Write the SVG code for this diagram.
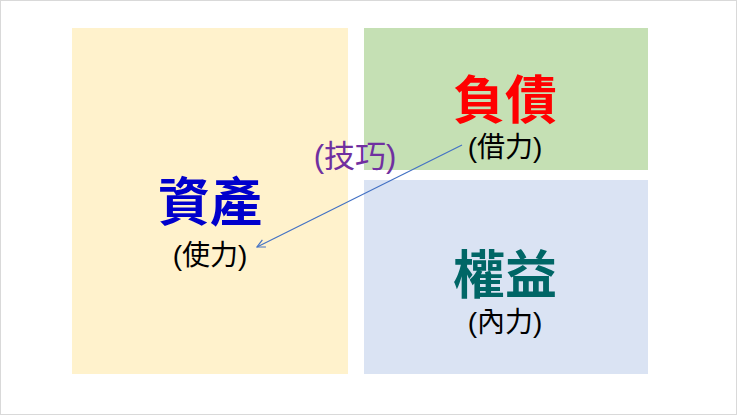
<svg xmlns="http://www.w3.org/2000/svg" width="740" height="418" viewBox="0 0 740 418">
<style>
.t{font-family:"Liberation Sans","Noto Sans CJK TC",sans-serif;text-anchor:middle}
.big{font-size:52px;font-weight:bold}
.sm{font-size:28px;fill:#000}
</style>
<defs><marker id="ah" markerWidth="10" markerHeight="10" refX="9" refY="5" orient="auto" markerUnits="userSpaceOnUse"><path d="M1,1 L9,5 L1,9" fill="none" stroke="#4472C4" stroke-width="1.2"/></marker></defs>
<rect x="0" y="0" width="740" height="418" fill="#fff"/>
<rect x="0.5" y="0.5" width="736" height="414" fill="none" stroke="#d9d9d9"/>
<g id="assets"><rect x="72" y="28" width="276" height="346" fill="#FFF2CC"/>
<text class="t big" x="210" y="221" fill="#0000CC">資產</text>
<text class="t sm" x="210" y="265">(使力)</text></g>
<g id="liabilities"><rect x="364" y="28" width="284" height="142" fill="#C5E0B4"/>
<text class="t big" x="505" y="119" fill="#FF0000">負債</text>
<text class="t sm" x="505" y="157">(借力)</text></g>
<g id="equity"><rect x="364" y="180" width="284" height="194" fill="#DAE3F3"/>
<text class="t big" x="505" y="294" fill="#006666">權益</text>
<text class="t sm" x="505" y="332">(內力)</text></g>
<g id="connectors"><line x1="462" y1="145" x2="257" y2="247" stroke="#4472C4" stroke-width="1.2" marker-end="url(#ah)"/>
<text class="t" x="355" y="167" font-size="31" fill="#7030A0">(技巧)</text></g>
</svg>
